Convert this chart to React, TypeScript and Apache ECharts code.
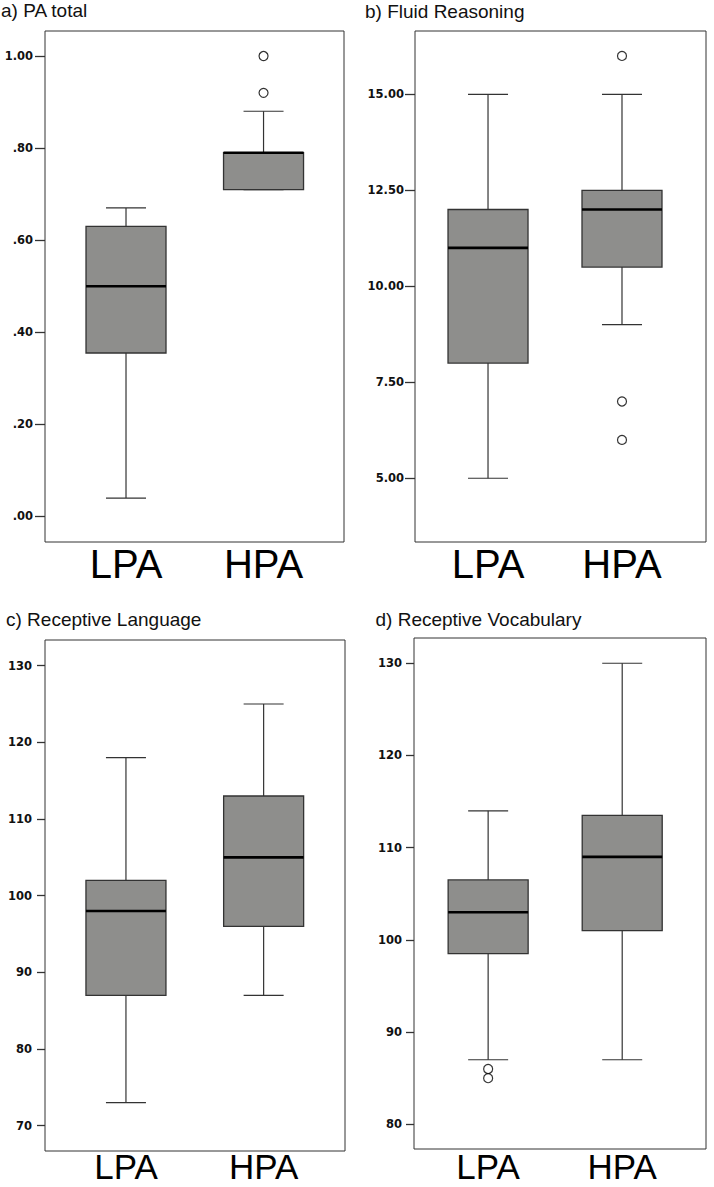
import React, { useEffect, useRef } from "react";
import * as echarts from "echarts";

// ---------- data ----------
const categories = ["LPA", "HPA"];

// [min, Q1, median, Q3, max] per category
const paTotalBoxes = [
  [0.04, 0.355, 0.5, 0.63, 0.67],
  [0.71, 0.71, 0.79, 0.79, 0.88],
];
const paTotalOutliers = [
  [1, 1.0],
  [1, 0.92],
];
const paTotalTicks = [0, 0.2, 0.4, 0.6, 0.8, 1.0];

const fluidBoxes = [
  [5, 8, 11, 12, 15],
  [9, 10.5, 12, 12.5, 15],
];
const fluidOutliers = [
  [1, 16],
  [1, 7],
  [1, 6],
];
const fluidTicks = [5, 7.5, 10, 12.5, 15];

const languageBoxes = [
  [73, 87, 98, 102, 118],
  [87, 96, 105, 113, 125],
];
const languageOutliers: number[][] = [];
const languageTicks = [70, 80, 90, 100, 110, 120, 130];

const vocabBoxes = [
  [87, 98.5, 103, 106.5, 114],
  [87, 101, 109, 113.5, 130],
];
const vocabOutliers = [
  [0, 86],
  [0, 85],
];
const vocabTicks = [80, 90, 100, 110, 120, 130];

const titles = [
  "a) PA total",
  "b) Fluid Reasoning",
  "c) Receptive Language",
  "d) Receptive Vocabulary",
];

// ---------- layout ----------
const FONT = '"Liberation Sans", Arial, Helvetica, sans-serif';
const TICK_FONT = '"DejaVu Sans", Verdana, sans-serif';

const panels = [
  {
    boxes: paTotalBoxes, outliers: paTotalOutliers, ticks: paTotalTicks,
    grid: { left: 45, top: 31, width: 299, height: 511 },
    yMin: -0.0554, yMax: 1.0543, xMin: -0.589, xMax: 1.585,
    fmt: (v: number) => v.toFixed(2).replace(/^0/, ""),
    tickLen: 10, labelMargin: 12, xLabelMargin: 22, xLabelSize: 40,
    title: { x: 1, y: 10 },
  },
  {
    boxes: fluidBoxes, outliers: fluidOutliers, ticks: fluidTicks,
    grid: { left: 415, top: 31, width: 291, height: 511 },
    yMin: 3.34, yMax: 16.65, xMin: -0.545, xMax: 1.627,
    fmt: (v: number) => v.toFixed(2),
    tickLen: 10, labelMargin: 11, xLabelMargin: 22, xLabelSize: 40,
    title: { x: 365, y: 11 },
  },
  {
    boxes: languageBoxes, outliers: languageOutliers, ticks: languageTicks,
    grid: { left: 45, top: 640, width: 300, height: 511 },
    yMin: 66.7, yMax: 133.35, xMin: -0.588, xMax: 1.591,
    fmt: (v: number) => String(Math.round(v)),
    tickLen: 8, labelMargin: 13, xLabelMargin: 15, xLabelSize: 35,
    title: { x: 6, y: 619 },
  },
  {
    boxes: vocabBoxes, outliers: vocabOutliers, ticks: vocabTicks,
    grid: { left: 414, top: 638, width: 292, height: 511 },
    yMin: 77.32, yMax: 132.74, xMin: -0.553, xMax: 1.625,
    fmt: (v: number) => String(Math.round(v)),
    tickLen: 8, labelMargin: 12, xLabelMargin: 17, xLabelSize: 35,
    title: { x: 375.5, y: 619 },
  },
];

const BOX_HALF = 40;
const CAP_HALF = 20;

function renderBox(params: any, api: any) {
  const x = api.value(0);
  const pMin = api.coord([x, api.value(1)]);
  const pQ1 = api.coord([x, api.value(2)]);
  const pMed = api.coord([x, api.value(3)]);
  const pQ3 = api.coord([x, api.value(4)]);
  const pMax = api.coord([x, api.value(5)]);
  const cx = pMed[0];
  const lineStyle = { stroke: "#333", lineWidth: 1.2, fill: null };
  return {
    type: "group",
    children: [
      { type: "line", shape: { x1: cx, y1: pQ3[1], x2: cx, y2: pMax[1] }, style: lineStyle },
      { type: "line", shape: { x1: cx, y1: pQ1[1], x2: cx, y2: pMin[1] }, style: lineStyle },
      { type: "line", shape: { x1: cx - CAP_HALF, y1: pMax[1], x2: cx + CAP_HALF, y2: pMax[1] }, style: lineStyle },
      { type: "line", shape: { x1: cx - CAP_HALF, y1: pMin[1], x2: cx + CAP_HALF, y2: pMin[1] }, style: lineStyle },
      {
        type: "rect",
        shape: { x: cx - BOX_HALF, y: pQ3[1], width: BOX_HALF * 2, height: pQ1[1] - pQ3[1] },
        style: { fill: "#8e8e8c", stroke: "#333", lineWidth: 1.3 },
      },
      {
        type: "line",
        shape: { x1: cx - BOX_HALF, y1: pMed[1], x2: cx + BOX_HALF, y2: pMed[1] },
        style: { stroke: "#000", lineWidth: 2.6 },
      },
    ],
  };
}

export default function App() {
  const ref = useRef<HTMLDivElement>(null);

  useEffect(() => {
    document.body.style.margin = "0";
    if (!ref.current) return;
    const chart = echarts.init(ref.current, null, { renderer: "svg" });

    const grid: any[] = [];
    const xAxis: any[] = [];
    const yAxis: any[] = [];
    const series: any[] = [];
    const graphic: any[] = [];

    panels.forEach((p, i) => {
      grid.push({
        ...p.grid,
        show: true,
        borderColor: "#333",
        borderWidth: 1,
        backgroundColor: "#fff",
      });
      xAxis.push({
        type: "value",
        gridIndex: i,
        position: "bottom",
        min: p.xMin,
        max: p.xMax,
        axisLine: { show: false, onZero: false },
        axisTick: { show: false },
        splitLine: { show: false },
        axisLabel: {
          customValues: [0, 1],
          formatter: (v: number) => categories[Math.round(v)],
          fontSize: p.xLabelSize,
          lineHeight: p.xLabelSize * 0.75,
          fontFamily: FONT,
          color: "#000",
          verticalAlign: "middle",
          margin: p.xLabelMargin,
        },
      });
      yAxis.push({
        type: "value",
        gridIndex: i,
        position: "left",
        min: p.yMin,
        max: p.yMax,
        axisLine: { show: false, onZero: false },
        splitLine: { show: false },
        axisTick: {
          show: true,
          customValues: p.ticks,
          length: p.tickLen,
          lineStyle: { color: "#333", width: 1.3 },
        },
        axisLabel: {
          customValues: p.ticks,
          formatter: p.fmt,
          fontSize: 11.5,
          fontWeight: "bold",
          fontFamily: TICK_FONT,
          color: "#111",
          margin: p.labelMargin,
        },
      });
      series.push({
        type: "custom",
        xAxisIndex: i,
        yAxisIndex: i,
        renderItem: renderBox,
        encode: { x: 0, y: [1, 2, 3, 4, 5] },
        data: p.boxes.map((b, k) => [k, ...b]),
        z: 2,
      });
      series.push({
        type: "scatter",
        xAxisIndex: i,
        yAxisIndex: i,
        symbol: "circle",
        symbolSize: 9,
        itemStyle: { color: "#fff", borderColor: "#000", borderWidth: 1.2 },
        data: p.outliers,
        z: 3,
      });
      graphic.push({
        type: "text",
        x: p.title.x,
        y: p.title.y,
        style: {
          text: titles[i],
          fontSize: 19,
          fontFamily: FONT,
          fill: "#111",
          align: "left",
          verticalAlign: "middle",
        },
      });
    });

    chart.setOption({
      animation: false,
      backgroundColor: "#fff",
      grid,
      xAxis,
      yAxis,
      series,
      graphic,
    });

    return () => chart.dispose();
  }, []);

  return (
    <div
      ref={ref}
      style={{ position: "absolute", left: 0, top: 0, width: 714, height: 1187 }}
    />
  );
}
